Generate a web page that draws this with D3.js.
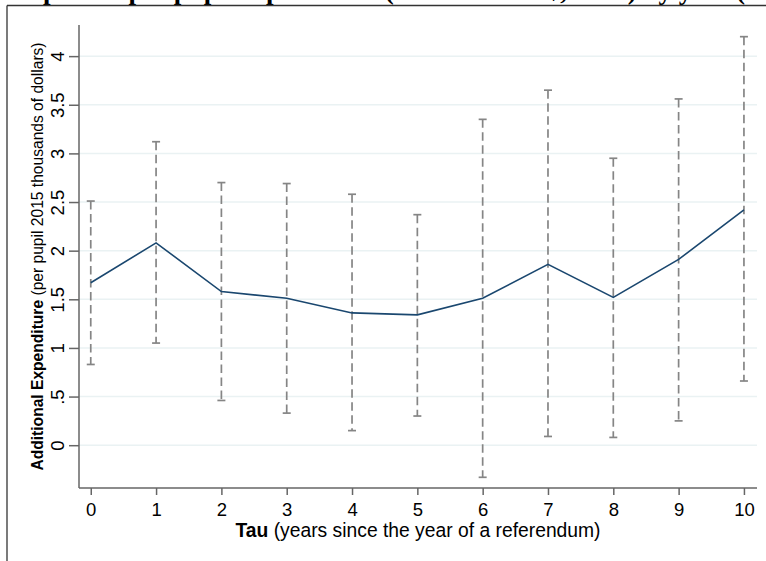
<!DOCTYPE html>
<html>
<head>
<meta charset="utf-8">
<script src="https://cdn.jsdelivr.net/npm/d3@7"></script>
<style>
  body { margin: 0; background: #fff; }
  svg { display: block; font-family: "Liberation Sans", Arial, sans-serif; }
</style>
</head>
<body>
<script>
// tau = years since the referendum
var tau = [0, 1, 2, 3, 4, 5, 6, 7, 8, 9, 10];
// point estimates (thousands of 2015 dollars per pupil)
var estimate = [1.67, 2.08, 1.58, 1.51, 1.36, 1.34, 1.51, 1.86, 1.52, 1.91, 2.42];
// confidence interval bounds
var ciLow  = [0.83, 1.05, 0.46, 0.33, 0.15, 0.30, -0.33, 0.09, 0.08, 0.25, 0.66];
var ciHigh = [2.51, 3.12, 2.70, 2.69, 2.58, 2.37, 3.35, 3.65, 2.95, 3.56, 4.20];
// axis ticks and labels (Stata drops the leading zero)
var yTicks = [0, 0.5, 1, 1.5, 2, 2.5, 3, 3.5, 4];
var yTickLabels = ["0", ".5", "1", "1.5", "2", "2.5", "3", "3.5", "4"];

var rows = tau.map(function(t, i) {
    return {t: t, est: estimate[i], lo: ciLow[i], hi: ciHigh[i]};
});

// set the dimensions and margins of the graph
var margin = {top: 25, right: 9, bottom: 73, left: 79},
    width = 766 - margin.left - margin.right,
    height = 561 - margin.top - margin.bottom;

var svg = d3.select("body").append("svg")
    .attr("width", 766)
    .attr("height", 561);

// title of the surrounding figure, cut off by the top edge, and its frame
svg.append("text")
    .attr("x", 10)
    .attr("y", -1)
    .style("font-family", "'Liberation Serif', 'Times New Roman', serif")
    .style("font-weight", "bold")
    .style("font-size", "27px")
    .text("Impact of per pupil expenditure (thousands of $, 2015) by year (tau)");

svg.append("line")
    .attr("x1", 7).attr("x2", 766).attr("y1", 5.5).attr("y2", 5.5)
    .attr("stroke", "#333").attr("stroke-width", 1.3);
svg.append("line")
    .attr("x1", 7).attr("x2", 7).attr("y1", 5.5).attr("y2", 561)
    .attr("stroke", "#333").attr("stroke-width", 1.3);

var g = svg.append("g")
    .attr("transform", "translate(" + margin.left + "," + margin.top + ")");

var x = d3.scaleLinear()
    .domain([-0.18, 10.2])
    .range([0, width]);
var y = d3.scaleLinear()
    .domain([-0.44, 4.32])
    .range([height, 0]);

// grid lines
g.selectAll(".grid")
    .data(yTicks)
  .enter().append("line")
    .attr("class", "grid")
    .attr("x1", 0).attr("x2", width)
    .attr("y1", function(d) { return y(d); })
    .attr("y2", function(d) { return y(d); })
    .attr("stroke", "#eaf2f3")
    .attr("stroke-width", 1.5);

// y axis
var yAxis = g.append("g")
    .call(d3.axisLeft(y).tickValues(yTicks).tickSize(10).tickPadding(4)
        .tickFormat(function(d, i) { return yTickLabels[i]; }));
yAxis.select(".domain").attr("d", "M0,0V" + height);
yAxis.selectAll(".domain, line").attr("stroke", "#666").attr("stroke-width", 1.5);
yAxis.selectAll("text")
    .attr("x", null).attr("dy", null)
    .attr("y", -15)
    .attr("transform", "rotate(-90)")
    .style("text-anchor", "middle")
    .style("font-size", "18.5px")
    .attr("fill", "#000");

// x axis
var xAxis = g.append("g")
    .attr("transform", "translate(0," + height + ")")
    .call(d3.axisBottom(x).tickValues(tau).tickSize(7).tickPadding(8).tickFormat(d3.format("d")));
xAxis.select(".domain").attr("d", "M0,0H" + width);
xAxis.selectAll(".domain, line").attr("stroke", "#666").attr("stroke-width", 1.5);
xAxis.selectAll("text")
    .style("font-size", "18.5px")
    .attr("fill", "#000");

// confidence intervals: dashed spikes with caps
g.selectAll(".ci")
    .data(rows)
  .enter().append("line")
    .attr("class", "ci")
    .attr("x1", function(d) { return x(d.t); })
    .attr("x2", function(d) { return x(d.t); })
    .attr("y1", function(d) { return y(d.hi); })
    .attr("y2", function(d) { return y(d.lo); })
    .attr("stroke", "#858585")
    .attr("stroke-width", 1.7)
    .attr("stroke-dasharray", "8.5,4.5");

["hi", "lo"].forEach(function(k) {
    g.selectAll(".cap-" + k)
        .data(rows)
      .enter().append("line")
        .attr("class", "cap-" + k)
        .attr("x1", function(d) { return x(d.t) - 4; })
        .attr("x2", function(d) { return x(d.t) + 4; })
        .attr("y1", function(d) { return y(d[k]); })
        .attr("y2", function(d) { return y(d[k]); })
        .attr("stroke", "#858585")
        .attr("stroke-width", 1.7);
});

// estimate line
var line = d3.line()
    .x(function(d) { return x(d.t); })
    .y(function(d) { return y(d.est); });

g.append("path")
    .datum(rows)
    .attr("d", line)
    .attr("fill", "none")
    .attr("stroke", "#1a476f")
    .attr("stroke-width", 1.6);

// axis titles
var xt = svg.append("text")
    .attr("x", margin.left + width / 2)
    .attr("y", 537)
    .style("text-anchor", "middle")
    .style("font-size", "19.3px");
xt.append("tspan").style("font-weight", "bold").text("Tau");
xt.append("tspan").text(" (years since the year of a referendum)");

var yt = svg.append("text")
    .attr("transform", "translate(43," + (margin.top + height / 2) + ") rotate(-90)")
    .style("text-anchor", "middle")
    .style("font-size", "15.6px");
yt.append("tspan").style("font-weight", "bold").text("Additional Expenditure");
yt.append("tspan").text(" (per pupil 2015 thousands of dollars)");
</script>
</body>
</html>
